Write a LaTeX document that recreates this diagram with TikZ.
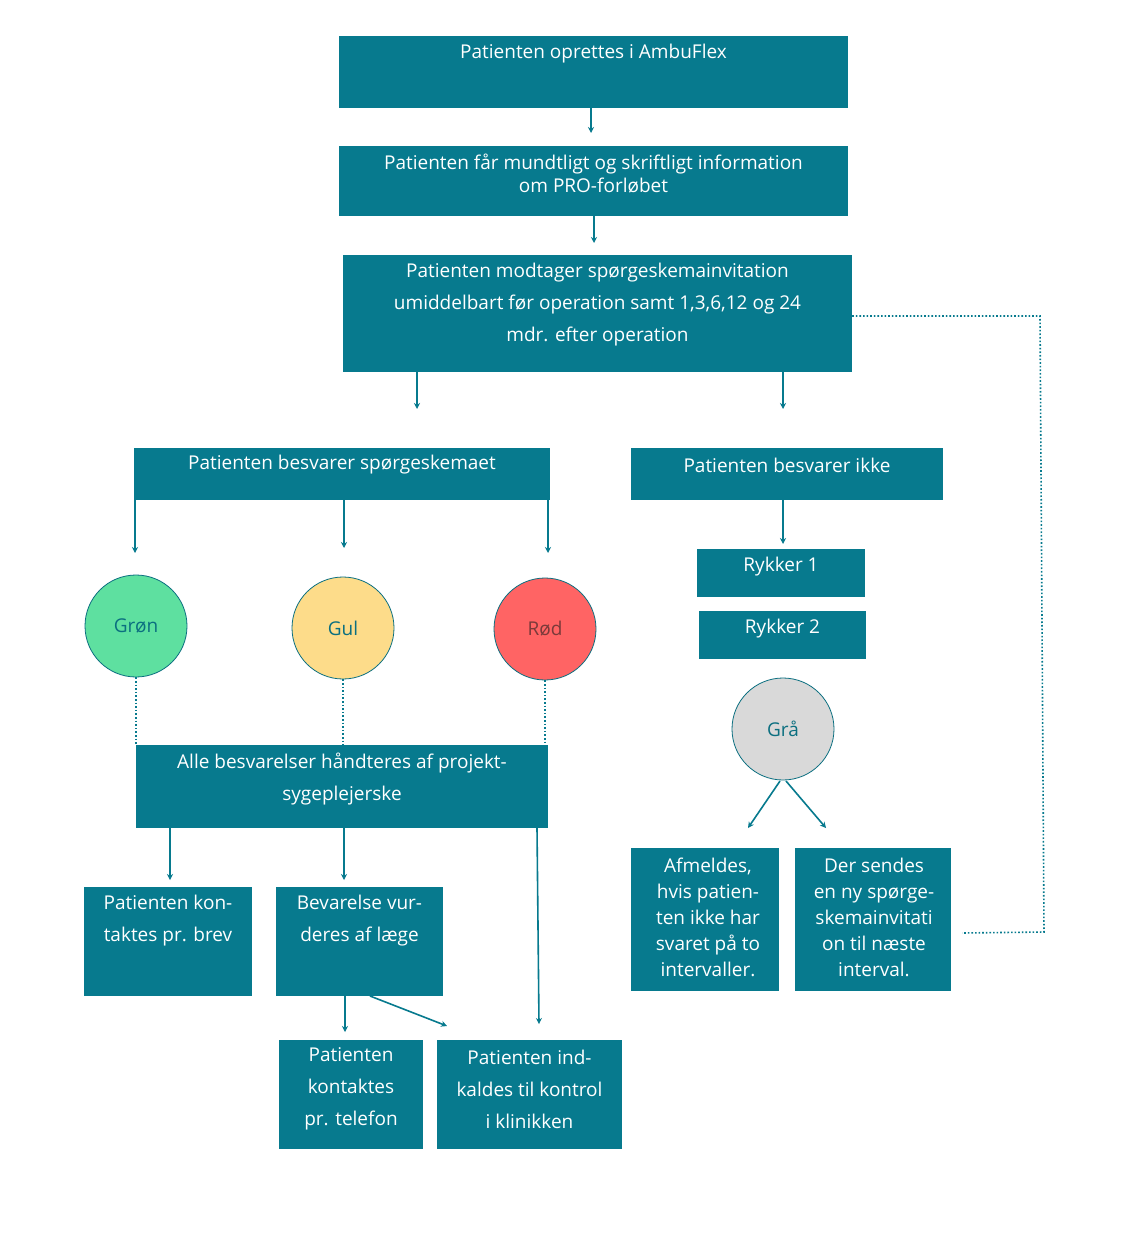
\documentclass[tikz,border=0pt]{standalone}
\usepackage{fontspec}
\setmainfont{Open Sans}
\usetikzlibrary{arrows.meta}
\definecolor{teal1}{HTML}{077A8E}
\definecolor{ctext}{HTML}{0B6F80}
\definecolor{cgreen}{HTML}{5EE0A0}
\definecolor{cyellow}{HTML}{FDDC8A}
\definecolor{cred}{HTML}{FF6464}
\definecolor{credt}{HTML}{7A3A3A}
\definecolor{cgrey}{HTML}{D9D9D9}
\begin{document}
\begin{tikzpicture}[x=1pt,y=-1pt,
 box/.style={fill=teal1,draw=none,inner sep=0pt},
 txt/.style={text=white,align=center,inner sep=0pt,font=\fontsize{19}{32}\selectfont},
 circ/.style={circle,draw=ctext,line width=0.8pt,minimum size=102pt,inner sep=0pt,text=ctext,font=\fontsize{19}{22}\selectfont},
 arr/.style={draw=teal1,line width=1.6pt,-{Stealth[length=6pt,width=6pt]}},
 dot/.style={draw=teal1,line width=1.6pt,dotted}]
\useasboundingbox (0,0) rectangle (1132,1260);
\fill[white] (0,0) rectangle (1132,1260);
\node[box,minimum width=509pt,minimum height=72pt] (b1) at (593.5,72) {};
\node[box,minimum width=509pt,minimum height=70pt] (b2) at (593.5,181) {};
\node[box,minimum width=509pt,minimum height=117pt] (b3) at (597.5,313.5) {};
\node[box,minimum width=416pt,minimum height=52pt] (b4) at (342,474) {};
\node[box,minimum width=312pt,minimum height=52pt] (b5) at (787,474) {};
\node[box,minimum width=168pt,minimum height=48pt] (r1) at (781,573) {};
\node[box,minimum width=167pt,minimum height=48pt] (r2) at (782.5,635) {};
\node[box,minimum width=412pt,minimum height=83pt] (b6) at (342,786.5) {};
\node[box,minimum width=168pt,minimum height=109pt] (b7) at (168,941.5) {};
\node[box,minimum width=167pt,minimum height=109pt] (b8) at (359.5,941.5) {};
\node[box,minimum width=144pt,minimum height=109pt] (b9) at (351,1094.5) {};
\node[box,minimum width=185pt,minimum height=109pt] (b10) at (529.5,1094.5) {};
\node[box,minimum width=148pt,minimum height=143pt] (b11) at (705,919.5) {};
\node[box,minimum width=156pt,minimum height=143pt] (b12) at (873,919.5) {};

\node[txt] (t1) at (593.5,54) {Patienten oprettes i AmbuFlex};
\node[txt,font=\fontsize{19}{23}\selectfont] (t2) at (593.5,173.5) {Patienten får mundtligt og skriftligt information\\om PRO-forløbet};
\node[txt] (t3) at (597.5,305) {Patienten modtager spørgeskemainvitation\\umiddelbart før operation samt 1,3,6,12 og 24\\mdr. efter operation};
\node[txt] (t4) at (342,465) {Patienten besvarer spørgeskemaet};
\node[txt] (t5) at (787,465) {Patienten besvarer ikke};
\node[txt] (tr1) at (781,567) {Rykker 1};
\node[txt] (tr2) at (782.5,629) {Rykker 2};
\node[txt] (t6) at (342,779) {Alle besvarelser håndteres af projekt-\\sygeplejerske};
\node[txt] (t7) at (168,921) {Patienten kon-\\taktes pr. brev};
\node[txt] (t8) at (359.5,921) {Bevarelse vur-\\deres af læge};
\node[txt] (t9) at (351,1089) {Patienten\\kontaktes\\pr. telefon};
\node[txt] (t10) at (529.5,1089) {Patienten ind-\\kaldes til kontrol\\i klinikken};
\node[txt,font=\fontsize{19}{26}\selectfont] (t11) at (708,917.5) {Afmeldes,\\hvis patien-\\ten ikke har\\svaret på to\\intervaller.};
\node[txt,font=\fontsize{19}{26}\selectfont] (t12) at (874,917.5) {Der sendes\\en ny spørge-\\skemainvitati\\on til næste\\interval.};

\node[circ,fill=cgreen] (c1) at (136,626) {Grøn};
\node[circ,fill=cyellow] (c2) at (343,628) {Gul};
\node[circ,fill=cred,text=credt] (c3) at (545,629) {Rød};
\node[circ,fill=cgrey] (c4) at (783,729) {Grå};

\coordinate (a1) at (591,133); \draw[arr] (b1.south -| a1) -- (a1);
\coordinate (a2) at (594,243); \draw[arr] (b2.south -| a2) -- (a2);
\coordinate (a3) at (417,409); \draw[arr] (b3.south -| a3) -- (a3);
\coordinate (a4) at (783,409); \draw[arr] (b3.south -| a4) -- (a4);
\coordinate (a5) at (135,553); \draw[arr] (b4.south -| a5) -- (a5);
\coordinate (a6) at (344,548); \draw[arr] (b4.south -| a6) -- (a6);
\coordinate (a7) at (548,553); \draw[arr] (b4.south -| a7) -- (a7);
\coordinate (a8) at (783,544); \draw[arr] (b5.south -| a8) -- (a8);
\draw[dot] (c1.south) -- (c1.south |- b6.north);
\draw[dot] (c2.south) -- (c2.south |- b6.north);
\draw[dot] (c3.south) -- (c3.south |- b6.north);
\coordinate (a9) at (170,880); \draw[arr] (b6.south -| a9) -- (a9);
\coordinate (a10) at (344,880); \draw[arr] (b6.south -| a10) -- (a10);
\coordinate (s11) at (537,828); \coordinate (a11) at (539,1024); \draw[arr] (s11) -- (a11);
\coordinate (a12) at (345,1032); \draw[arr] (b8.south -| a12) -- (a12);
\coordinate (s13) at (370,996); \coordinate (a13) at (447,1026); \draw[arr] (s13) -- (a13);
\coordinate (s14) at (780,781); \coordinate (a14) at (748,828); \draw[arr] (s14) -- (a14);
\coordinate (s15) at (786,781); \coordinate (a15) at (826,828); \draw[arr] (s15) -- (a15);
\coordinate (d1) at (1040,316); \coordinate (d2) at (1044,932); \coordinate (d3) at (962,933);
\draw[dot] (b3.east |- d1) -- (d1) -- (d2) -- (d3);
\end{tikzpicture}
\end{document}
